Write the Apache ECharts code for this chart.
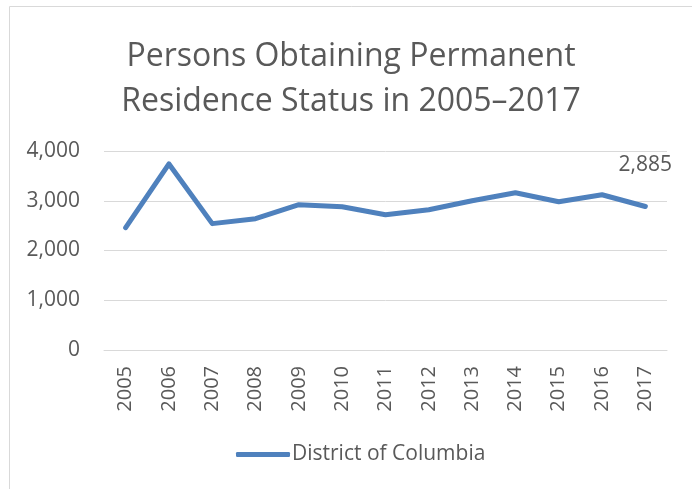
<!DOCTYPE html>
<html>
<head>
<meta charset="utf-8">
<script src="https://cdn.jsdelivr.net/npm/echarts@6/dist/echarts.min.js"></script>
<style>
  html, body { margin: 0; padding: 0; background: #fff; }
  #chart { width: 692px; height: 489px; }
</style>
</head>
<body>
<div id="chart"></div>
<script>
var years = ['2005', '2006', '2007', '2008', '2009', '2010', '2011', '2012', '2013', '2014', '2015', '2016', '2017'];
var persons = [2460, 3740, 2540, 2640, 2920, 2880, 2720, 2820, 3000, 3160, 2980, 3120, 2885];
var yTicks = [0, 1000, 2000, 3000, 4000];

var textColor = '#595959';
var font = 'Open Sans';

var chart = echarts.init(document.getElementById('chart'));

// only the last point carries a label
var seriesData = persons.map(function (v, i) {
	if (i === persons.length - 1) {
		return {
			value: v,
			label: { show: true, position: 'top', distance: 31 }
		};
	}
	return v;
});

chart.setOption({
	animation: false,
	textStyle: { fontFamily: font },
	graphic: [{
		type: 'rect',
		shape: { x: 9.5, y: 6.5, width: 700, height: 500 },
		style: { fill: 'none', stroke: '#d9d9d9', lineWidth: 1 }
	}],
	title: {
		text: 'Persons Obtaining Permanent\nResidence Status in 2005\u20132017',
		left: 346,
		textAlign: 'center',
		top: 29,
		textStyle: { color: textColor, fontSize: 32, fontWeight: 'normal', lineHeight: 45, fontFamily: font }
	},
	legend: {
		data: ['District of Columbia'],
		left: 231,
		top: 439,
		itemWidth: 54,
		itemHeight: 5,
		itemGap: 5,
		icon: 'roundRect',
		textStyle: { color: textColor, fontSize: 21, fontFamily: font, padding: [0, 0, 0, -3] }
	},
	grid: { left: 104, right: 25, top: 151, bottom: 139, containLabel: false },
	xAxis: {
		type: 'category',
		data: years,
		boundaryGap: true,
		axisLine: { lineStyle: { color: '#d9d9d9', width: 1 } },
		axisTick: { show: false },
		axisLabel: { rotate: 90, color: textColor, fontSize: 20, margin: 16, fontFamily: font }
	},
	yAxis: {
		type: 'value',
		min: yTicks[0],
		max: yTicks[yTicks.length - 1],
		interval: 1000,
		axisLine: { show: false },
		axisTick: { show: false },
		splitLine: { lineStyle: { color: '#d9d9d9', width: 1 } },
		axisLabel: {
			color: textColor, fontSize: 21, margin: 24, fontFamily: font,
			formatter: function (v) { return v.toLocaleString('en-US'); }
		}
	},
	series: [{
		name: 'District of Columbia',
		type: 'line',
		data: seriesData,
		symbol: 'circle',
		symbolSize: 0.1,
		showSymbol: true,
		lineStyle: { color: '#4f81bd', width: 5, cap: 'round', join: 'round' },
		itemStyle: { color: '#4f81bd' },
		label: {
			color: textColor, fontSize: 21, fontFamily: font,
			formatter: function (p) { return p.value.toLocaleString('en-US'); }
		}
	}]
});
</script>
</body>
</html>
